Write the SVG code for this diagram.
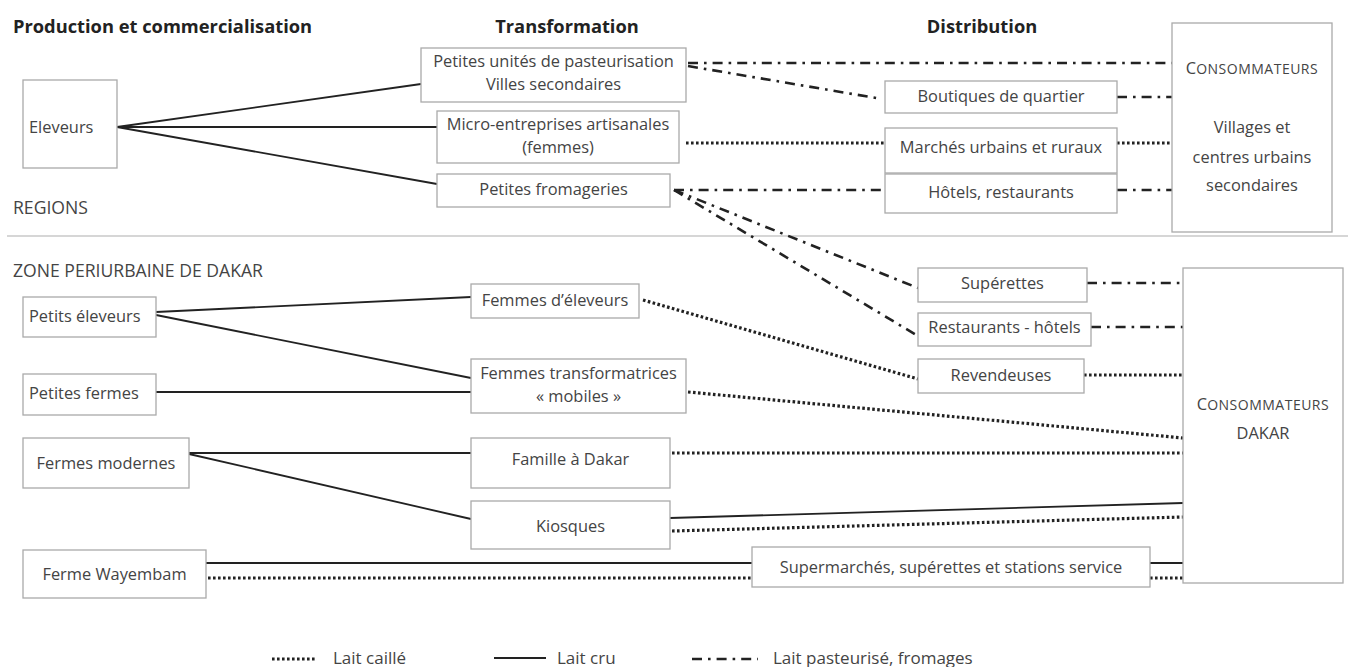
<svg xmlns="http://www.w3.org/2000/svg" width="1348" height="667" viewBox="0 0 1348 667">
<style>
.bg{fill:#fff}
.box{fill:#fff;stroke:#aaa;stroke-width:1.3}
.t{font-family:"Open Sans","Liberation Sans",sans-serif;font-size:16.4px;fill:#444}
.c{text-anchor:middle}
.h{font-family:"Open Sans","Liberation Sans",sans-serif;font-size:18.3px;font-weight:bold;fill:#222}
.z{font-family:"Open Sans","Liberation Sans",sans-serif;font-size:17.6px;fill:#444}
.lg{font-family:"Open Sans","Liberation Sans",sans-serif;font-size:17px;fill:#444}
.sc{font-size:14px;letter-spacing:0.5px}
.solid{fill:none;stroke:#222;stroke-width:1.8}
.dot{fill:none;stroke:#222;stroke-width:3.2;stroke-dasharray:2.6 2.4}
.dd{fill:none;stroke:#222;stroke-width:2.6;stroke-dasharray:10 6 2.6 6}
.sep{stroke:#d6d6d6;stroke-width:2}
</style>
<rect class="bg" x="0" y="0" width="1348" height="667"/>

<g id="headers">
<text class="h" x="13" y="33">Production et commercialisation</text>
<text class="h c" x="567" y="33">Transformation</text>
<text class="h c" x="982" y="33">Distribution</text>
<text class="z" x="13" y="214">REGIONS</text>
<text class="z" x="13" y="277">ZONE PERIURBAINE DE DAKAR</text>
<line class="sep" x1="7" y1="236" x2="1348" y2="236"/>
</g>

<g id="connectors">
<path class="solid" d="M117 127 L421 84"/>
<path class="solid" d="M117 127 L437 127"/>
<path class="solid" d="M117 127 L437 184"/>
<path class="dd" d="M688 63 L1172 63"/>
<path class="dd" d="M688 66 L882 99"/>
<path class="dd" d="M1117 97 L1172 97"/>
<path class="dd" d="M674 190 L885 190"/>
<path class="dd" d="M1117 190 L1172 190"/>
<path class="dd" d="M674 190 L918 288"/>
<path class="dd" d="M674 190 L918 336"/>
<path class="dd" d="M1087 283 L1183 283"/>
<path class="dd" d="M1091 327 L1183 327"/>
<path class="dot" d="M686 143 L885 143"/>
<path class="dot" d="M1117 143 L1172 143"/>
<path class="solid" d="M156 312 L471 297"/>
<path class="solid" d="M156 315 L471 378"/>
<path class="solid" d="M156 392 L471 392"/>
<path class="solid" d="M189 453 L471 453"/>
<path class="solid" d="M189 454 L471 519"/>
<path class="solid" d="M670 518 L1183 503"/>
<path class="solid" d="M206 563 L752 563"/>
<path class="solid" d="M1150 563 L1183 563"/>
<path class="dot" d="M643 300 L918 379"/>
<path class="dot" d="M1084 375 L1183 375"/>
<path class="dot" d="M688 392 L1183 438"/>
<path class="dot" d="M672 453 L1183 453"/>
<path class="dot" d="M672 531 L1183 517"/>
<path class="dot" d="M208 578 L752 578"/>
<path class="dot" d="M1150 578 L1183 578"/>
</g>

<g id="n-eleveurs">
<rect class="box" x="23" y="80" width="94" height="88"/>
<text class="t" x="29" y="133">Eleveurs</text>
</g>
<g id="n-pasteurisation">
<rect class="box" x="421" y="48" width="265" height="54"/>
<text class="t c" x="553.5" y="67">Petites unités de pasteurisation</text>
<text class="t c" x="553.5" y="90">Villes secondaires</text>
</g>
<g id="n-micro">
<rect class="box" x="437" y="111" width="242" height="52"/>
<text class="t c" x="558" y="130">Micro-entreprises artisanales</text>
<text class="t c" x="558" y="153">(femmes)</text>
</g>
<g id="n-fromageries">
<rect class="box" x="437" y="174" width="233" height="33"/>
<text class="t c" x="553.5" y="195">Petites fromageries</text>
</g>
<g id="n-boutiques">
<rect class="box" x="885" y="81" width="232" height="32"/>
<text class="t c" x="1001" y="102">Boutiques de quartier</text>
</g>
<g id="n-marches">
<rect class="box" x="885" y="128" width="232" height="45"/>
<text class="t c" x="1001" y="153">Marchés urbains et ruraux</text>
</g>
<g id="n-hotels">
<rect class="box" x="885" y="174" width="232" height="39"/>
<text class="t c" x="1001" y="198">Hôtels, restaurants</text>
</g>
<g id="n-conso-regions">
<rect class="box" x="1172" y="23" width="160" height="209"/>
<text class="t c" x="1252" y="74"><tspan>C</tspan><tspan class="sc">ONSOMMATEURS</tspan></text>
<text class="t c" x="1252" y="133">Villages et</text>
<text class="t c" x="1252" y="163">centres urbains</text>
<text class="t c" x="1252" y="191">secondaires</text>
</g>

<g id="n-petits-eleveurs">
<rect class="box" x="23" y="297" width="133" height="40"/>
<text class="t" x="29" y="322">Petits éleveurs</text>
</g>
<g id="n-petites-fermes">
<rect class="box" x="23" y="374" width="133" height="41"/>
<text class="t" x="29" y="399">Petites fermes</text>
</g>
<g id="n-fermes-modernes">
<rect class="box" x="23" y="438" width="166" height="50"/>
<text class="t c" x="106" y="469">Fermes modernes</text>
</g>
<g id="n-wayembam">
<rect class="box" x="23" y="550" width="183" height="48"/>
<text class="t c" x="114.5" y="580">Ferme Wayembam</text>
</g>
<g id="n-femmes-eleveurs">
<rect class="box" x="471" y="284" width="168" height="34"/>
<text class="t c" x="555" y="306">Femmes d’éleveurs</text>
</g>
<g id="n-femmes-transfo">
<rect class="box" x="471" y="359" width="215" height="54"/>
<text class="t c" x="578.5" y="379">Femmes transformatrices</text>
<text class="t c" x="578.5" y="402">« mobiles »</text>
</g>
<g id="n-famille">
<rect class="box" x="471" y="438" width="199" height="50"/>
<text class="t c" x="570.5" y="465">Famille à Dakar</text>
</g>
<g id="n-kiosques">
<rect class="box" x="471" y="501" width="199" height="48"/>
<text class="t c" x="570.5" y="532">Kiosques</text>
</g>
<g id="n-superettes">
<rect class="box" x="918" y="268" width="169" height="34"/>
<text class="t c" x="1002.5" y="289">Supérettes</text>
</g>
<g id="n-restaurants">
<rect class="box" x="918" y="313" width="173" height="33"/>
<text class="t c" x="1004.5" y="333">Restaurants - hôtels</text>
</g>
<g id="n-revendeuses">
<rect class="box" x="918" y="359" width="166" height="34"/>
<text class="t c" x="1001" y="381">Revendeuses</text>
</g>
<g id="n-supermarches">
<rect class="box" x="752" y="547" width="398" height="40"/>
<text class="t c" x="951" y="573">Supermarchés, supérettes et stations service</text>
</g>
<g id="n-conso-dakar">
<rect class="box" x="1183" y="268" width="160" height="315"/>
<text class="t c" x="1263" y="410"><tspan>C</tspan><tspan class="sc">ONSOMMATEURS</tspan></text>
<text class="t c" x="1263" y="439">DAKAR</text>
</g>

<g id="legend">
<path class="dot" d="M272 659 L317 659"/>
<text class="lg" x="333" y="664">Lait caillé</text>
<path class="solid" d="M494 658 L546 658"/>
<text class="lg" x="557" y="664">Lait cru</text>
<path class="dd" d="M692 659 L758 659"/>
<text class="lg" x="773" y="664">Lait pasteurisé, fromages</text>
</g>
</svg>
